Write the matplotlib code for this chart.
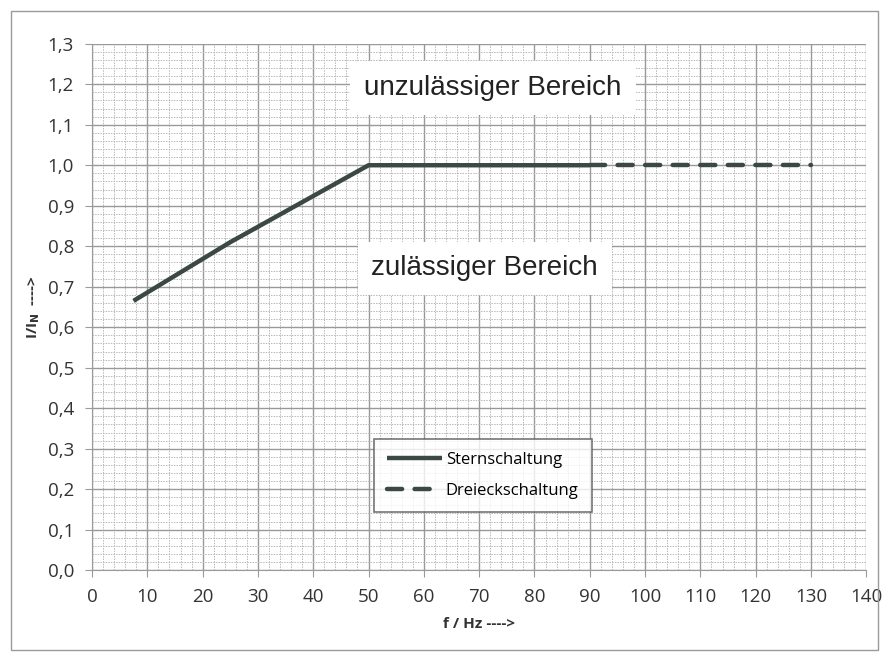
import matplotlib.pyplot as plt
from matplotlib.ticker import MultipleLocator, FuncFormatter
from matplotlib.patches import Rectangle

# Daten
f_stern = [7.5, 25, 50, 90]
i_stern = [0.665, 0.81, 1.0, 1.0]
f_dreieck = [90, 130]
i_dreieck = [1.0, 1.0]

x_ticks = list(range(0, 141, 10))
y_ticks = [round(0.1 * k, 1) for k in range(0, 14)]

farbe = '#3b4846'

fig = plt.figure(figsize=(8.89, 6.63), dpi=100)
ax = fig.add_axes([0.1035, 0.140, 0.871, 0.794])

# Rahmen um das Diagramm
fig.patches.append(Rectangle((0.012, 0.02), 0.976, 0.963, transform=fig.transFigure,
                             fill=False, edgecolor='#9a9a9a', linewidth=1.0))

ax.plot(f_stern, i_stern, color=farbe, linewidth=3.2, solid_capstyle='butt',
        label='Sternschaltung', zorder=5)
ax.plot(f_dreieck, i_dreieck, color=farbe, linewidth=3.2, dashes=(3.4, 2.8),
        dash_capstyle='round', label='Dreieckschaltung', zorder=5)

ax.set_xlim(0, 140)
ax.set_ylim(0, 1.3)
ax.set_xticks(x_ticks)
ax.set_yticks(y_ticks)
ax.xaxis.set_minor_locator(MultipleLocator(2))
ax.yaxis.set_minor_locator(MultipleLocator(0.02))
ax.yaxis.set_major_formatter(FuncFormatter(lambda v, p: f'{v:.1f}'.replace('.', ',')))

ax.grid(True, which='major', color='#999999', linewidth=1.0)
ax.grid(True, which='minor', color='#b8b8b8', linewidth=0.7, linestyle=(0, (1.5, 1.2)))
ax.set_axisbelow(True)

for s in ['top', 'right']:
    ax.spines[s].set_visible(False)
for s in ['left', 'bottom']:
    ax.spines[s].set_color('#9a9a9a')

ax.tick_params(which='major', length=5, color='#9a9a9a', labelsize=13.5,
               labelcolor='#333333', pad=8)
ax.tick_params(which='minor', length=0)
for lab in ax.get_xticklabels() + ax.get_yticklabels():
    lab.set_family('Open Sans')

ax.set_xlabel('f / Hz ---->', fontsize=11, fontweight='bold', family='Open Sans',
              color='#333333', labelpad=8)
ax.set_ylabel(r'I/I$_\mathbf{N}$  ---->', fontsize=11, fontweight='bold',
              family='Open Sans', color='#333333', labelpad=4)

box = dict(facecolor='white', edgecolor='none', pad=10)
ax.text(72.5, 1.19, 'unzulässiger Bereich', fontsize=20, family='Liberation Sans',
        color='#222222', ha='center', va='center', bbox=box, zorder=6)
ax.text(71, 0.745, 'zulässiger Bereich', fontsize=20, family='Liberation Sans',
        color='#222222', ha='center', va='center', bbox=box, zorder=6)

leg = ax.legend(loc='center', bbox_to_anchor=(0.505, 0.18), frameon=True,
                fancybox=False, prop={'family': 'Open Sans', 'size': 12},
                handlelength=3.3, handletextpad=0.2, labelspacing=0.9,
                borderpad=0.8)
leg.get_frame().set_edgecolor('#555555')
leg.get_frame().set_linewidth(1.2)
leg.set_zorder(7)

fig.savefig('out.png', dpi=100)
